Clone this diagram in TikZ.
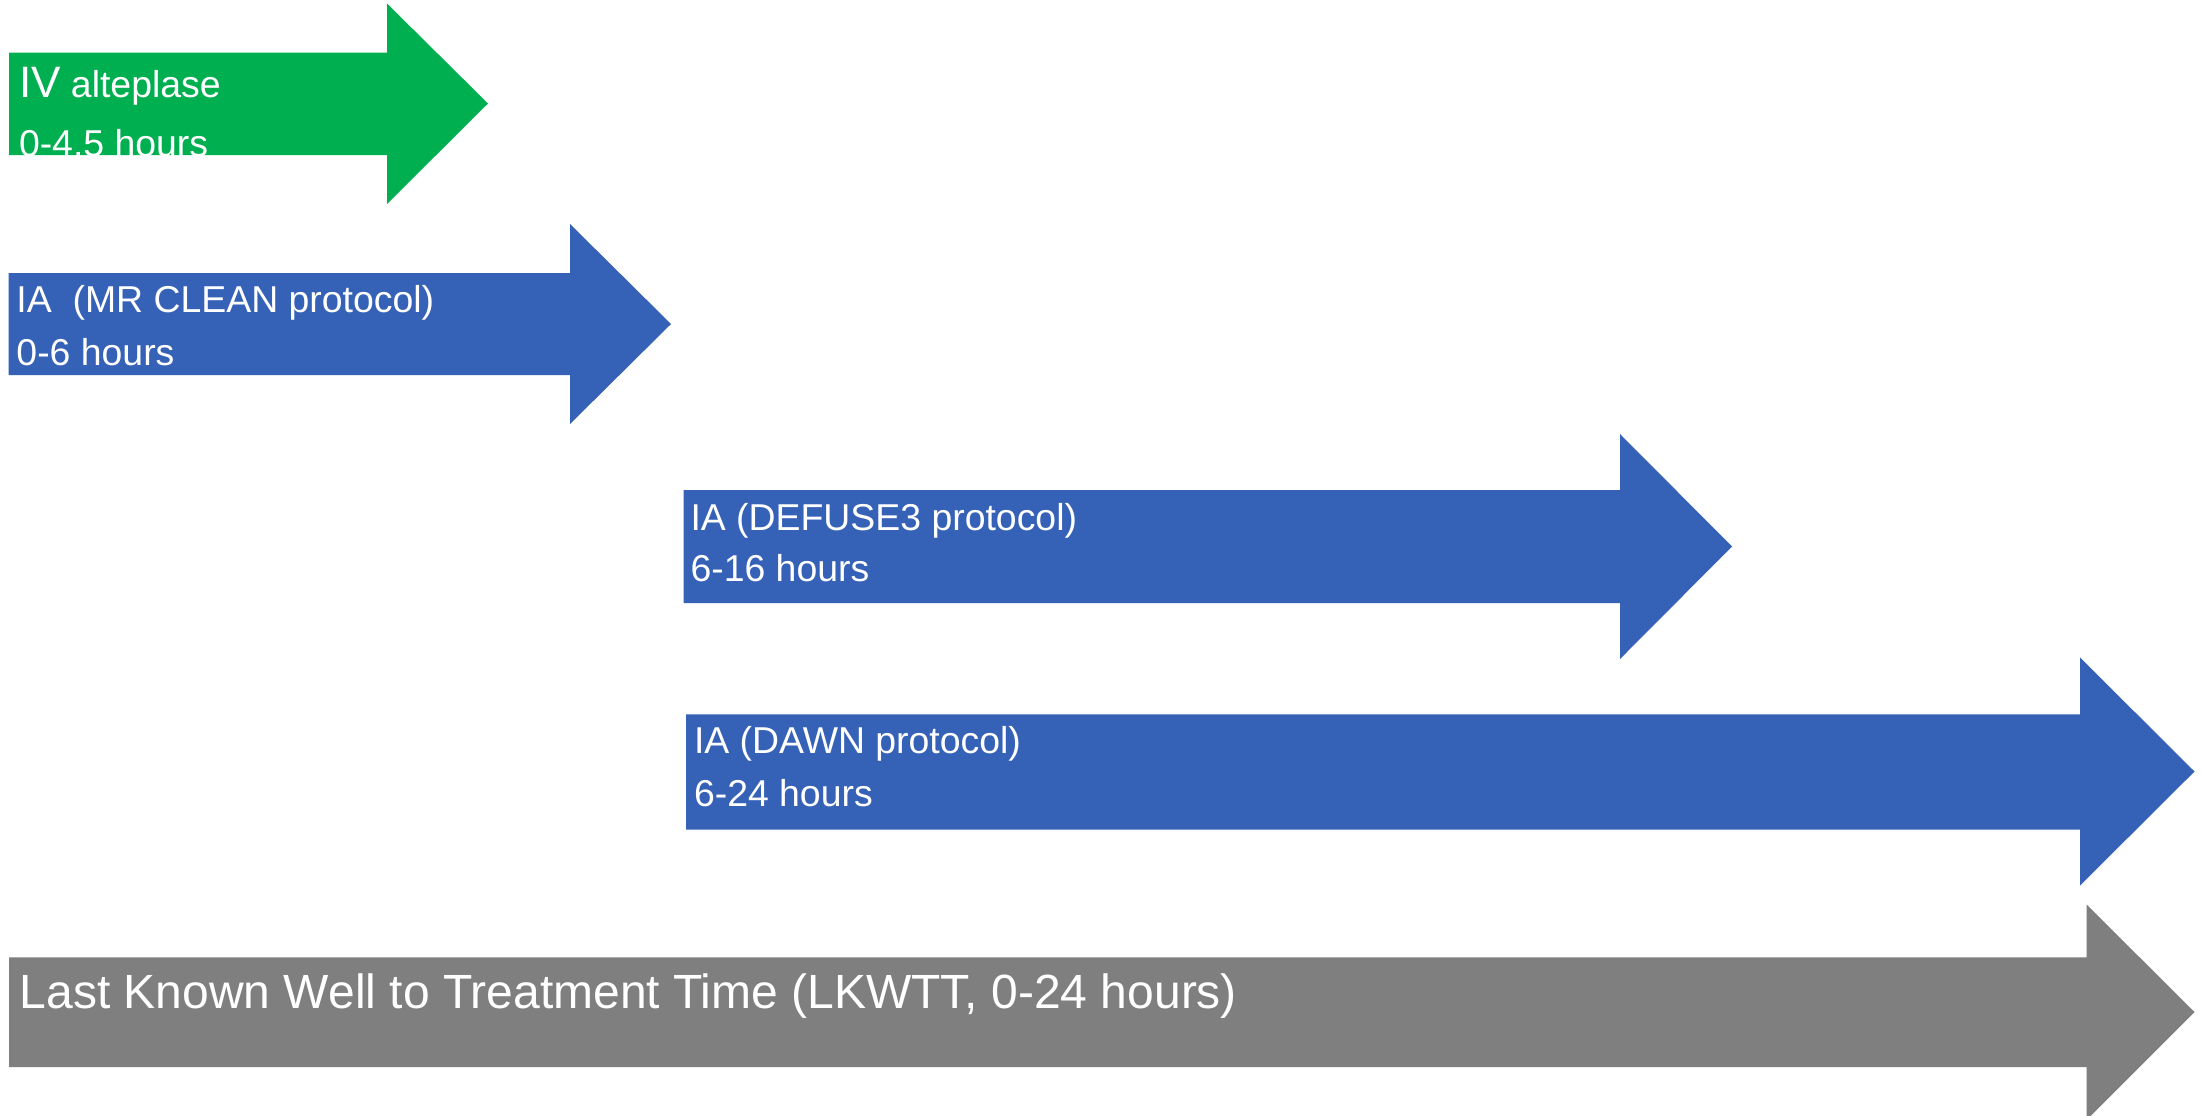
\documentclass[tikz,border=0pt]{standalone}
\usepackage{fontspec}
\setmainfont{Liberation Sans}
\definecolor{ivgreen}{HTML}{00B050}
\definecolor{iablue}{HTML}{3561B7}
\definecolor{lkgrey}{HTML}{7F7F7F}
\tikzset{
  arrowshape/.style={fill=#1, draw=none},
  lbl/.style={anchor=base west, inner sep=0pt, outer sep=0pt, text=white, font=\fontsize{18.7}{22}\selectfont},
  biglbl/.style={anchor=base west, inner sep=0pt, outer sep=0pt, text=white, font=\fontsize{24}{28}\selectfont},
}
\begin{document}
\begin{tikzpicture}[x=0.5pt, y=-0.5pt]
\clip (0,0) rectangle (2201,1115);
\fill[white] (0,0) rectangle (2201,1115);
% arrow 1: IV alteplase
\fill[arrowshape=ivgreen] (9,52.5) -- (387,52.5) -- (387,3.5) -- (488,103.5) -- (387,204) -- (387,155) -- (9,155) -- cycle;
\node[lbl] (a1t) at (19,97.7) {{\fontsize{22}{25}\selectfont IV} {\fontsize{18.7}{22}\selectfont alteplase}};
\node[lbl, font=\fontsize{18.7}{22}\selectfont] (a1b) at (19,156) {0-4.5 hours};
% arrow 2: MR CLEAN
\fill[arrowshape=iablue] (8.5,273) -- (570,273) -- (570,224) -- (671,324) -- (570,424) -- (570,375) -- (8.5,375) -- cycle;
\node[lbl] (a2t) at (16.5,312) {IA\ \ (MR CLEAN protocol)};
\node[lbl] (a2b) at (16.5,365.5) {0-6 hours};
% arrow 3: DEFUSE3
\fill[arrowshape=iablue] (683.5,490) -- (1620,490) -- (1620,434) -- (1732,546.5) -- (1620,659) -- (1620,603) -- (683.5,603) -- cycle;
\node[lbl] (a3t) at (690.5,530) {IA (DEFUSE3 protocol)};
\node[lbl] (a3b) at (690.5,581.7) {6-16 hours};
% arrow 4: DAWN
\fill[arrowshape=iablue] (686,714.3) -- (2080,714.3) -- (2080,657.5) -- (2194.5,771.5) -- (2080,885.5) -- (2080,829.5) -- (686,829.5) -- cycle;
\node[lbl] (a4t) at (694,753.3) {IA (DAWN protocol)};
\node[lbl] (a4b) at (694,806) {6-24 hours};
% arrow 5: LKWTT
\fill[arrowshape=lkgrey] (9,957.3) -- (2086.5,957.3) -- (2086.5,904.5) -- (2194.5,1012) -- (2086.5,1120) -- (2086.5,1067) -- (9,1067) -- cycle;
\node[biglbl] (a5t) at (19.8,1008.3) {Last Known Well to Treatment Time (LKWTT, 0-24 hours)};
\end{tikzpicture}
\end{document}
